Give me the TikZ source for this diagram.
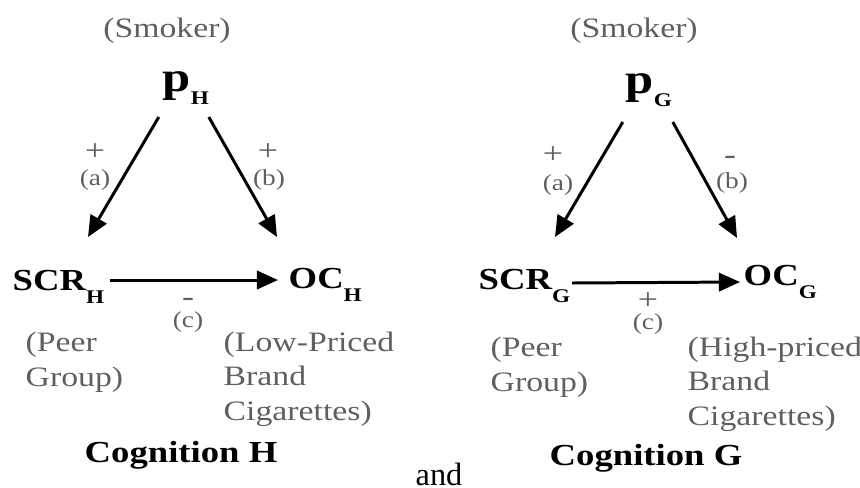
\documentclass[tikz,border=0pt]{standalone}
\usepackage{fontspec}
\setmainfont{Liberation Serif}[FakeStretch=1.2]
\newfontfamily\andfont{Liberation Serif}
\usepackage{xcolor}
\usetikzlibrary{arrows.meta}
\definecolor{lblgray}{RGB}{95,95,95}
\newcommand{\subtxt}[1]{\raisebox{-3.8pt}{\fontsize{5.5}{6}\selectfont #1}}
\tikzset{
  lbl/.style={inner sep=0pt,text=lblgray,font=\fontsize{8}{9.7}\selectfont,align=left},
  sgn/.style={inner sep=0pt,text=lblgray,font=\fontsize{8.5}{9}\selectfont},
  tag/.style={inner sep=0pt,text=lblgray,font=\fontsize{6.5}{7}\selectfont},
  var/.style={inner sep=0pt,font=\fontsize{8.7}{10}\selectfont\bfseries,anchor=base west},
  pvar/.style={inner sep=0pt,font=\fontsize{12}{14}\selectfont\bfseries,anchor=base west},
  arr/.style={line width=0.85pt,-{Triangle[length=6pt,width=5.2pt]}}
}
\begin{document}
\begin{tikzpicture}[x=0.1mm,y=-0.1mm]
\useasboundingbox (0,0) rectangle (860,487);
\node[lbl,anchor=base] (smkH) at (167,37) {(Smoker)};
\node[pvar] (pH) at (162,91) {p\subtxt{H}};
\node[var] (scrH) at (12,290) {SCR\subtxt{H}};
\node[var] (ocH) at (288,288) {OC\subtxt{H}};
\node[lbl,anchor=base west] (peerH) at (25,386) {(Peer\\Group)};
\node[lbl,anchor=base west] (lowH) at (223,420) {(Low-Priced\\Brand\\Cigarettes)};
\node[var,anchor=base] (cogH) at (181,462) {Cognition H};
\draw[arr] ([shift={(-27,26)}]pH.base) -- ([shift={(76,-53)}]scrH.base west);
\draw[arr] ([shift={(23,26)}]pH.base) -- ([shift={(-11,-51)}]ocH.base west);
\draw[arr] ([shift={(98,-10)}]scrH.base west) -- ([shift={(-10,-8)}]ocH.base west);
\node[lbl,anchor=base] (smkG) at (634,37) {(Smoker)};
\node[pvar] (pG) at (625,93) {p\subtxt{G}};
\node[var] (scrG) at (478,289) {SCR\subtxt{G}};
\node[var] (ocG) at (743,285) {OC\subtxt{G}};
\node[lbl,anchor=base west] (peerG) at (490,391) {(Peer\\Group)};
\node[lbl,anchor=base west] (highG) at (687,425) {(High-priced\\Brand\\Cigarettes)};
\node[var,anchor=base] (cogG) at (646,465) {Cognition G};
\draw[arr] ([shift={(-26,29)}]pG.base) -- ([shift={(77,-52)}]scrG.base west);
\draw[arr] ([shift={(24,29)}]pG.base) -- ([shift={(-6,-47)}]ocG.base west);
\draw[arr] ([shift={(94,-6)}]scrG.base west) -- ([shift={(-3,-3)}]ocG.base west);
\foreach \n/\x/\y/\t in {plHa/95/152/+,plHb/268/152/+,miHc/188/302/-,plGa/553/155/+,miGb/730/160/-,plGc/648/301/+}{
\node[sgn] (\n) at (\x,\y) {\t};
}
\foreach \n/\x/\y/\t in {tHa/95/180/a,tHb/269/180/b,tHc/188/322/c,tGa/558/185/a,tGb/732/183/b,tGc/648/324/c}{
\node[tag] (\n) at (\x,\y) {(\t)};
}
\node[inner sep=0pt,anchor=base west,font=\andfont\fontsize{9.2}{10}\selectfont] (andtxt) at (415,485) {and};
\end{tikzpicture}
\end{document}
